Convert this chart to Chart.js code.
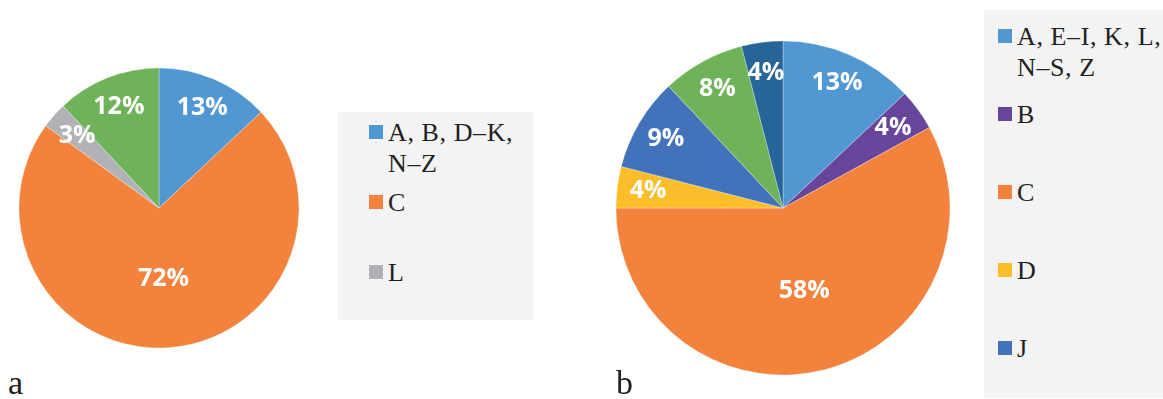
<!DOCTYPE html>
<html>
<head>
<meta charset="utf-8">
<script src="https://cdn.jsdelivr.net/npm/chart.js@4.4.1/dist/chart.umd.min.js"></script>
<style>
  body { margin: 0; width: 1163px; height: 399px; background: #fff; position: relative; overflow: hidden; font-family: "Liberation Serif", "Times New Roman", serif; }
  .pie { position: absolute; }
  .legend { position: absolute; background: #f3f3f3; overflow: hidden; box-sizing: border-box; }
  .item { display: flex; align-items: flex-start; }
  .sw { width: 14px; height: 14px; margin-top: 8px; margin-right: 5px; flex: none; }
  .txt { font-size: 26px; line-height: 31px; color: #231f20; letter-spacing: 0.6px; }
  .tag { position: absolute; font-size: 34px; line-height: 34px; color: #231f20; }
</style>
</head>
<body>

<div class="pie" style="left:9px;top:58px;width:300px;height:300px"><canvas id="pieA"></canvas></div>
<div class="legend" id="legA" style="left:338px;top:112px;width:195px;height:208px;padding:5px 0 0 31px"></div>
<div class="tag" style="left:8px;top:366px">a</div>

<div class="pie" style="left:603px;top:28px;width:360px;height:360px"><canvas id="pieB"></canvas></div>
<div class="legend" id="legB" style="left:984px;top:10px;width:190px;height:388px;padding:11px 0 0 14px"></div>
<div class="tag" style="left:616px;top:366px">b</div>

<script>
// chart a
var labelsA = ['A, B, D\u2013K, N\u2013Z', 'C', 'L', 'M'];
var valuesA = [13, 72, 3, 12];
var colorsA = ['#5198d2', '#f2823c', '#b1b2b5', '#6eb259'];

// chart b
var labelsB = ['A, E\u2013I, K, L, N\u2013S, Z', 'B', 'C', 'D', 'J', 'M', 'T\u2013Y'];
var valuesB = [13, 4, 58, 4, 9, 8, 4];
var colorsB = ['#5198d2', '#66459b', '#f2823c', '#fcbd2b', '#4272b9', '#6eb259', '#276599'];

// percent labels on the slices, big slice goes in the middle, the rest near the rim
var sliceLabels = {
    id: 'sliceLabels',
    afterDatasetsDraw: function (chart) {
        var ctx = chart.ctx;
        var data = chart.data.datasets[0].data;
        var total = data.reduce(function (a, b) { return a + b; }, 0);
        ctx.save();
        ctx.fillStyle = '#ffffff';
        ctx.font = 'bold 25px "Open Sans"';
        ctx.textAlign = 'center';
        ctx.textBaseline = 'middle';
        chart.getDatasetMeta(0).data.forEach(function (arc, i) {
            var share = data[i] / total;
            var mid = (arc.startAngle + arc.endAngle) / 2;
            var r = share > 0.5 ? arc.outerRadius * 0.51 : arc.outerRadius - 31;
            ctx.fillText(Math.round(share * 100) + '%', arc.x + Math.cos(mid) * r, arc.y + Math.sin(mid) * r);
        });
        ctx.restore();
    }
};

function makePie(id, labels, values, colors, radius) {
    return new Chart(document.getElementById(id), {
        type: 'pie',
        data: {
            labels: labels,
            datasets: [{
                data: values,
                backgroundColor: colors,
                borderColor: '#ffffff',
                borderWidth: 0.3
            }]
        },
        options: {
            responsive: true,
            maintainAspectRatio: false,
            animation: false,
            radius: radius,
            layout: { padding: 0 },
            plugins: {
                legend: { display: false },
                tooltip: { enabled: false }
            }
        },
        plugins: [sliceLabels]
    });
}

function makeLegend(id, labels, colors, slot, textWidth) {
    var box = document.getElementById(id);
    labels.forEach(function (lab, i) {
        var item = document.createElement('div');
        item.className = 'item';
        item.style.height = slot + 'px';
        var sw = document.createElement('div');
        sw.className = 'sw';
        sw.style.background = colors[i];
        var txt = document.createElement('div');
        txt.className = 'txt';
        txt.style.width = textWidth + 'px';
        txt.textContent = lab;
        item.appendChild(sw);
        item.appendChild(txt);
        box.appendChild(item);
    });
}

makePie('pieA', labelsA, valuesA, colorsA, 140);
makePie('pieB', labelsB, valuesB, colorsB, 167);
makeLegend('legA', labelsA, colorsA, 70, 140);
makeLegend('legB', labelsB, colorsB, 78, 150);
</script>
</body>
</html>
